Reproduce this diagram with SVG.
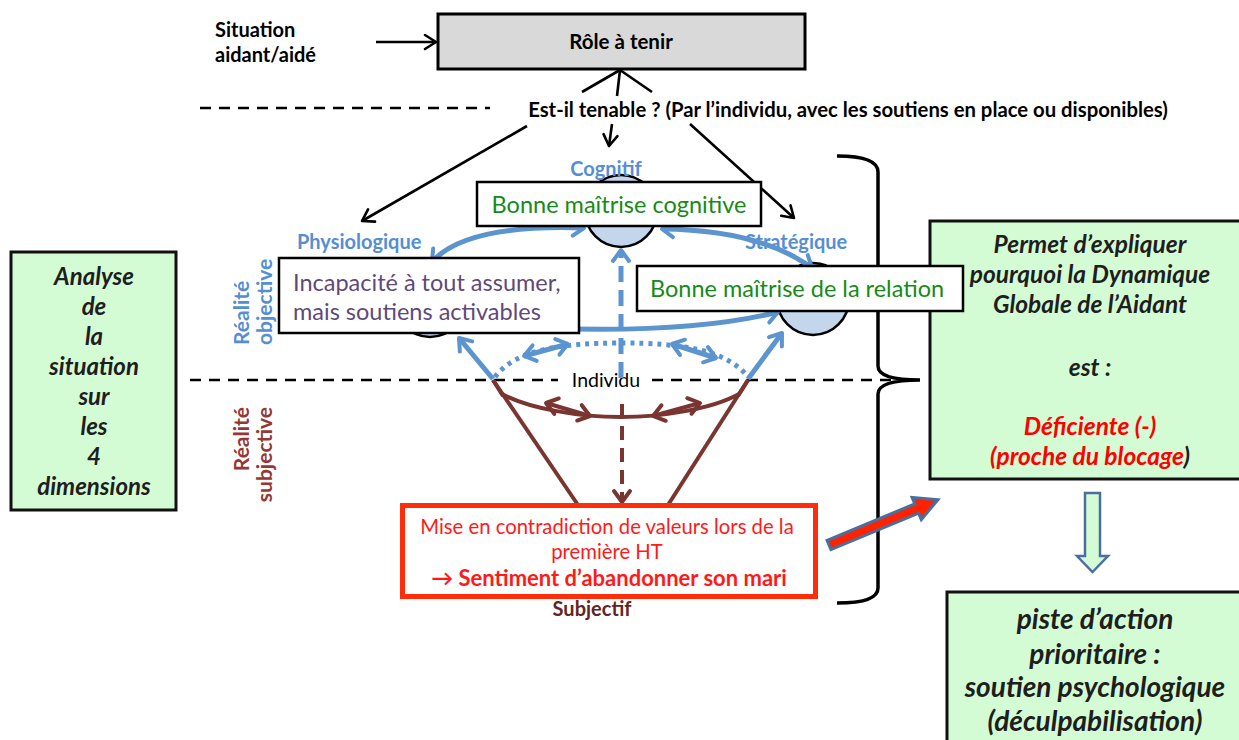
<svg xmlns="http://www.w3.org/2000/svg" width="1239" height="740" viewBox="0 0 1239 740">
<style>
text{font-family:Lato,"Liberation Sans",sans-serif}
.b{font-weight:bold}
.bi{font-weight:bold;font-style:italic;fill:#1e1e1e}
.lbl{font-weight:bold;font-size:20px;fill:#558ed5}
.box{fill:#fff;stroke:#000;stroke-width:2.5}
.gbox{fill:#d4fcd4;stroke:#111;stroke-width:3}
.circ{fill:#c3d6ec;stroke:#000;stroke-width:2.5}
.bl{fill:none;stroke:#5b94cf;stroke-width:5}
.br{fill:none;stroke:#7a3530;stroke-width:4}
.k{fill:none;stroke:#000;stroke-width:2.6}
.dash{fill:none;stroke:#000;stroke-width:2.4;stroke-dasharray:11 8}
.green{fill:#178a17;font-size:23.5px}
</style>
<defs>
<marker id="ab" viewBox="-16 -12 20 24" refX="0" refY="0" markerWidth="20" markerHeight="24" markerUnits="userSpaceOnUse" orient="auto-start-reverse"><path d="M-11,-8 L0,0 L-11,8" fill="none" stroke="#5b94cf" stroke-width="4" stroke-linecap="round" stroke-linejoin="round"/></marker>
<marker id="abr" viewBox="-16 -12 20 24" refX="0" refY="0" markerWidth="20" markerHeight="24" markerUnits="userSpaceOnUse" orient="auto-start-reverse"><path d="M-11,-8 L0,0 L-11,8" fill="none" stroke="#7a3530" stroke-width="4" stroke-linecap="round" stroke-linejoin="round"/></marker>
<marker id="ak" viewBox="-14 -10 18 20" refX="0" refY="0" markerWidth="18" markerHeight="20" markerUnits="userSpaceOnUse" orient="auto"><path d="M-11,-7 L0,0 L-11,7" fill="none" stroke="#000" stroke-width="2.6" stroke-linecap="round" stroke-linejoin="round"/></marker>
</defs>

<g id="separators">
<line class="dash" x1="200" y1="108" x2="490" y2="108"/>
<line class="dash" x1="190" y1="380" x2="558" y2="380"/>
<line class="dash" x1="652" y1="380" x2="915" y2="380"/>
<path d="M837,156 Q878,156 878,172 L878,366 Q878,380 920,380 Q878,380 878,394 L878,588 Q878,603 837,603" fill="none" stroke="#000" stroke-width="3.5"/>
</g>

<g id="situation">
<text class="b" x="215" y="37" font-size="20">Situation</text>
<text class="b" x="215" y="62" font-size="20">aidant/aidé</text>
</g>

<g id="role">
<rect x="438" y="14" width="367" height="55" fill="#d9d9d9" stroke="#000" stroke-width="3"/>
<text class="b" x="621" y="49" font-size="20.5" text-anchor="middle">Rôle à tenir</text>
</g>

<g id="question">
<text class="b" x="848" y="117" font-size="20.3" text-anchor="middle">Est-il tenable ? (Par l’individu, avec les soutiens en place ou disponibles)</text>
</g>

<g id="circles">
<circle id="c-cognitif" class="circ" cx="621" cy="211" r="36"/>
<circle id="c-physio" class="circ" cx="430" cy="301" r="36"/>
<circle id="c-strat" class="circ" cx="813" cy="299" r="36"/>
</g>

<g id="labels">
<text class="lbl" x="606" y="176" text-anchor="middle">Cognitif</text>
<text class="lbl" x="297" y="249">Physiologique</text>
<text class="lbl" x="745" y="249">Stratégique</text>
<text class="b" font-size="21" fill="#558ed5" transform="translate(249,345) rotate(-90)">Réalité</text>
<text class="b" font-size="21" fill="#558ed5" transform="translate(272,345) rotate(-90)">objective</text>
<text class="b" font-size="21" fill="#953735" text-anchor="end" transform="translate(249,407) rotate(-90)">Réalité</text>
<text class="b" font-size="21" fill="#953735" text-anchor="end" transform="translate(272,407) rotate(-90)">subjective</text>
<text x="606" y="387" font-size="19.5" text-anchor="middle" fill="#000">Individu</text>
<text class="b" x="592" y="616" font-size="20" text-anchor="middle" fill="#632523">Subjectif</text>
</g>

<g id="connectors">
<line class="k" x1="376" y1="42" x2="436" y2="42" marker-end="url(#ak)"/>
<line class="k" x1="582" y1="92" x2="620" y2="70"/>
<line class="k" x1="617" y1="96" x2="620" y2="70"/>
<line class="k" x1="652" y1="92" x2="620" y2="70"/>
<line class="k" x1="527" y1="126" x2="362" y2="221" marker-end="url(#ak)"/>
<line class="k" x1="612" y1="124" x2="609" y2="146" marker-end="url(#ak)"/>
<line class="k" x1="690" y1="124" x2="794" y2="218" marker-end="url(#ak)"/>

<path class="bl" d="M432,262 Q465,224 584,228" marker-start="url(#ab)" marker-end="url(#ab)"/>
<path class="bl" d="M662,229 Q760,230 812,268" marker-start="url(#ab)" marker-end="url(#ab)"/>
<path class="bl" d="M540,328 Q690,334 778,312" marker-end="url(#ab)"/>
<line class="bl" x1="493" y1="379" x2="459" y2="338" stroke-width="4" marker-end="url(#ab)"/>
<line class="bl" x1="748" y1="379" x2="782" y2="333" stroke-width="4" marker-end="url(#ab)"/>
<path class="bl" d="M495,377 C515,350 560,343 621,343 C682,343 727,350 748,377" stroke-width="4" stroke-dasharray="4 5"/>
<line class="bl" x1="524" y1="356" x2="568" y2="344" stroke-width="4" marker-start="url(#ab)" marker-end="url(#ab)"/>
<line class="bl" x1="672" y1="344" x2="716" y2="358" stroke-width="4" marker-start="url(#ab)" marker-end="url(#ab)"/>
<line class="bl" x1="621" y1="378" x2="621" y2="250" stroke-dasharray="16 8" marker-end="url(#ab)"/>

<line class="br" x1="493" y1="380" x2="578" y2="505"/>
<line class="br" x1="748" y1="380" x2="668" y2="505"/>
<line class="br" x1="493" y1="380" x2="503" y2="396" stroke-width="6"/>
<line class="br" x1="748" y1="380" x2="738" y2="396" stroke-width="6"/>
<path class="br" d="M502,394 C530,409 580,417 621,417 C662,417 712,409 739,394" stroke-width="3"/>
<line class="br" x1="546" y1="403" x2="590" y2="416" stroke-width="3.5" marker-start="url(#abr)" marker-end="url(#abr)"/>
<line class="br" x1="653" y1="416" x2="700" y2="403" stroke-width="3.5" marker-start="url(#abr)" marker-end="url(#abr)"/>
<line class="br" x1="622" y1="404" x2="622" y2="502" stroke-width="4" stroke-dasharray="14 8" marker-end="url(#abr)"/>

<polygon transform="translate(829,545) rotate(-22.6)" points="0,-5 95,-5 95,-12 118,0 95,12 95,5 0,5" fill="#ff2200" stroke="#4a6f9f" stroke-width="3" stroke-linejoin="miter"/>
<polygon points="1085,493 1100,493 1100,556 1108,556 1092.5,572 1077,556 1085,556" fill="#d4fcd4" stroke="#4a6f9f" stroke-width="2.5"/>
</g>

<g id="node-cognitif">
<rect class="box" x="477" y="182" width="284" height="44"/>
<text class="green" x="619" y="213" text-anchor="middle">Bonne maîtrise cognitive</text>
</g>

<g id="node-physio">
<rect class="box" x="279" y="258" width="300" height="75"/>
<text x="293" y="291" font-size="23.5" fill="#5f497a">Incapacité à tout assumer,</text>
<text x="293" y="320" font-size="23.5" fill="#5f497a">mais soutiens activables</text>
</g>

<g id="node-dynamique">
<rect class="gbox" x="930" y="221" width="320" height="258"/>
<text class="bi" x="1090" y="253" font-size="24.5" text-anchor="middle">Permet d’expliquer</text>
<text class="bi" x="1090" y="283" font-size="24.5" text-anchor="middle">pourquoi la Dynamique</text>
<text class="bi" x="1090" y="313" font-size="24.5" text-anchor="middle">Globale de l’Aidant</text>
<text class="bi" x="1090" y="376" font-size="24.5" text-anchor="middle">est :</text>
<text class="bi" x="1090" y="435" font-size="24.5" text-anchor="middle" style="fill:#ff0000">Déficiente (-)</text>
<text class="bi" x="1090" y="465" font-size="24.5" text-anchor="middle"><tspan style="fill:#ff0000">(proche du blocage</tspan>)</text>
</g>

<g id="node-strat">
<rect class="box" x="637" y="266" width="326" height="45"/>
<text class="green" x="797" y="297" text-anchor="middle">Bonne maîtrise de la relation</text>
</g>

<g id="node-analyse">
<rect class="gbox" x="11" y="252" width="165" height="258"/>
<g text-anchor="middle">
<text class="bi" x="94" y="285" font-size="24">Analyse</text>
<text class="bi" x="94" y="315" font-size="24">de</text>
<text class="bi" x="94" y="345" font-size="24">la</text>
<text class="bi" x="94" y="375" font-size="24">situation</text>
<text class="bi" x="94" y="405" font-size="24">sur</text>
<text class="bi" x="94" y="435" font-size="24">les</text>
<text class="bi" x="94" y="465" font-size="24">4</text>
<text class="bi" x="94" y="495" font-size="24">dimensions</text>
</g>
</g>

<g id="node-subjectif">
<rect x="402.5" y="505.5" width="413" height="91" fill="#fff" stroke="#ff2d0a" stroke-width="5"/>
<text x="607" y="534" font-size="20.3" text-anchor="middle" fill="#ff1a1a">Mise en contradiction de valeurs lors de la</text>
<text x="607" y="559" font-size="20.3" text-anchor="middle" fill="#ff1a1a">première HT</text>
<text class="b" x="609" y="586" font-size="22" text-anchor="middle" fill="#ff1a1a">→ Sentiment d’abandonner son mari</text>
</g>

<g id="node-piste">
<rect class="gbox" x="947" y="592" width="310" height="160"/>
<text class="bi" x="1095" y="629" font-size="28" text-anchor="middle">piste d’action</text>
<text class="bi" x="1095" y="664" font-size="28" text-anchor="middle">prioritaire  :</text>
<text class="bi" x="1095" y="697" font-size="28" text-anchor="middle">soutien psychologique</text>
<text class="bi" x="1095" y="731" font-size="28" text-anchor="middle">(déculpabilisation)</text>
</g>
</svg>
